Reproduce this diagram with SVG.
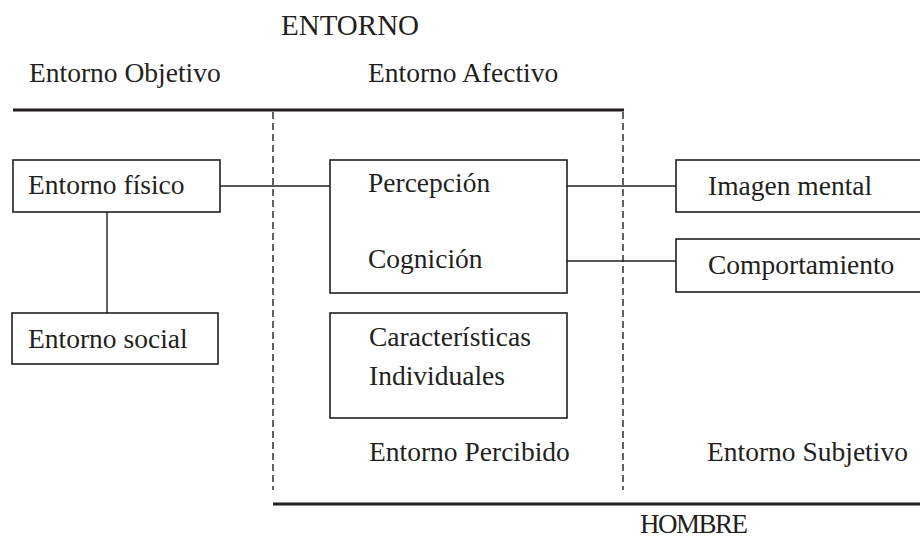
<svg xmlns="http://www.w3.org/2000/svg" width="920" height="544" viewBox="0 0 920 544">
<style>
text{font-family:"Liberation Serif","DejaVu Serif",serif;font-size:27.5px;fill:#231f20}
.big{font-size:29px}
.hom{font-size:27px;letter-spacing:-1.5px}
.box{fill:#fff;stroke:#231f20;stroke-width:1.6}
.ln{stroke:#231f20;stroke-width:1.4;fill:none}
.thick{stroke:#231f20;stroke-width:3.2;fill:none}
.dash{stroke:#231f20;stroke-width:1.4;stroke-dasharray:7 4;fill:none}
</style>
<rect width="920" height="544" fill="#fff"/>
<g id="frame">
<line class="thick" x1="13" y1="110" x2="624" y2="110"/>
<line class="thick" x1="273" y1="504" x2="920" y2="504"/>
<line class="dash" x1="273" y1="112" x2="273" y2="490"/>
<line class="dash" x1="623" y1="112" x2="623" y2="490"/>
</g>
<g id="connectors">
<line class="ln" x1="220" y1="186" x2="330" y2="186"/>
<line class="ln" x1="107" y1="212" x2="107" y2="313"/>
<line class="ln" x1="567" y1="186" x2="676" y2="186"/>
<line class="ln" x1="567" y1="261" x2="676" y2="261"/>
</g>
<g id="labels">
<text class="big" x="281" y="35">ENTORNO</text>
<text x="29" y="82">Entorno Objetivo</text>
<text x="368" y="82">Entorno Afectivo</text>
<text x="369" y="461">Entorno Percibido</text>
<text x="707" y="461">Entorno Subjetivo</text>
<text class="hom" x="640" y="533">HOMBRE</text>
</g>
<g id="fisico">
<rect class="box" x="13" y="160" width="207" height="52"/>
<text x="28" y="194">Entorno físico</text>
</g>
<g id="social">
<rect class="box" x="12" y="313" width="206" height="51"/>
<text x="28" y="348">Entorno social</text>
</g>
<g id="percepcion-cognicion">
<rect class="box" x="330" y="160" width="237" height="133"/>
<text x="368" y="192">Percepción</text>
<text x="368" y="268">Cognición</text>
</g>
<g id="caracteristicas">
<rect class="box" x="330" y="313" width="237" height="105"/>
<text x="369" y="346">Características</text>
<text x="369" y="385">Individuales</text>
</g>
<g id="imagen">
<rect class="box" x="676" y="160" width="250" height="52"/>
<text x="708" y="195">Imagen mental</text>
</g>
<g id="comportamiento">
<rect class="box" x="676" y="239" width="250" height="53"/>
<text x="708" y="274">Comportamiento</text>
</g>
</svg>
